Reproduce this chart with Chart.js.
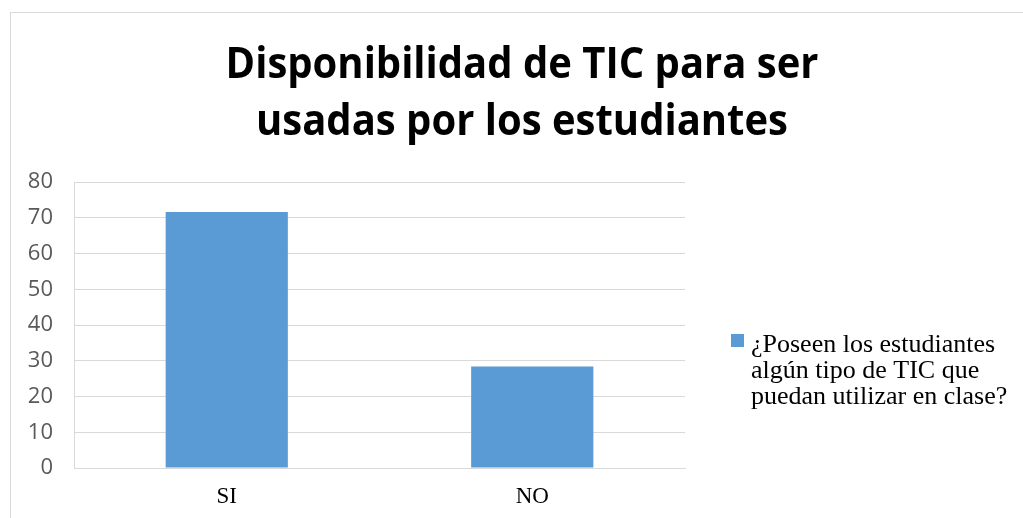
<!DOCTYPE html>
<html>
<head>
<meta charset="utf-8">
<style>
  html, body { margin: 0; padding: 0; background: #fff; }
  #wrap { width: 1023px; height: 518px; position: relative; }
</style>
</head>
<body>
<div id="wrap"><canvas id="myChart" width="1023" height="518"></canvas></div>
<script src="https://cdn.jsdelivr.net/npm/chart.js@4.4.0/dist/chart.umd.min.js"></script>
<script>
// chart data
const categories = ['SI', 'NO'];
const seriesValues = [71.6, 28.4];
const seriesLabel = '¿Poseen los estudiantes algún tipo de TIC que puedan utilizar en clase?';
const legendLines = ['¿Poseen los estudiantes', 'algún tipo de TIC que', 'puedan utilizar en clase?'];
const titleLines = ['Disponibilidad de TIC para ser', 'usadas por los estudiantes'];
const yTicks = [0, 10, 20, 30, 40, 50, 60, 70, 80];

const barColor = '#5b9bd5';
const gridColor = '#d9d9d9';

// outer frame + title (title is centred on the whole frame, not on the plot)
const framePlugin = {
  id: 'frame',
  beforeDraw(chart) {
    const c = chart.ctx;
    c.save();
    c.fillStyle = '#fff';
    c.fillRect(0, 0, chart.width, chart.height);
    c.strokeStyle = gridColor;
    c.lineWidth = 1;
    c.strokeRect(10.5, 12.5, 1100, 600);
    c.restore();
  },
  afterDraw(chart) {
    const c = chart.ctx;
    titleLines.forEach((line, i) => {
      c.save();
      c.fillStyle = '#000';
      c.font = 'bold 40px "Open Sans", sans-serif';
      c.textAlign = 'center';
      c.textBaseline = 'alphabetic';
      c.translate(522, 78 + i * 57);
      c.scale(1, 1.06);
      c.fillText(line, 0, 0);
      c.restore();
    });
  }
};

// legend on the right, wrapped on several lines
const sideLegend = {
  id: 'sideLegend',
  afterDraw(chart) {
    const c = chart.ctx;
    const x = chart.chartArea.right + 46;
    c.save();
    c.fillStyle = chart.data.datasets[0].backgroundColor;
    c.fillRect(x, 334, 13, 13);
    c.fillStyle = '#000';
    c.font = '26px "Liberation Serif", "Times New Roman", serif';
    c.textAlign = 'left';
    c.textBaseline = 'alphabetic';
    legendLines.forEach((line, i) => {
      c.fillText(line, x + 20, 352 + i * 26);
    });
    c.restore();
  }
};

const ctx = document.getElementById('myChart').getContext('2d');
const myChart = new Chart(ctx, {
  type: 'bar',
  data: {
    labels: categories,
    datasets: [{
      label: seriesLabel,
      data: seriesValues,
      backgroundColor: barColor,
      borderWidth: 0,
      categoryPercentage: 1,
      barPercentage: 0.4
    }]
  },
  options: {
    responsive: false,
    animation: false,
    layout: { padding: { left: 22, right: 338, top: 182, bottom: 0 } },
    plugins: {
      legend: { display: false },
      tooltip: { enabled: false },
      title: { display: false }
    },
    scales: {
      x: {
        grid: { display: false, drawTicks: false },
        border: { display: true, color: gridColor },
        ticks: {
          color: '#000',
          padding: 15,
          font: { family: '"Liberation Serif", "Times New Roman", serif', size: 23 }
        },
        afterFit(scale) { scale.height = 50; }
      },
      y: {
        min: 0,
        max: 80,
        afterBuildTicks(scale) { scale.ticks = yTicks.map(v => ({ value: v })); },
        grid: { color: gridColor, drawTicks: false },
        border: { display: true, color: gridColor },
        ticks: {
          color: '#595959',
          padding: 21,
          font: { family: '"Open Sans", sans-serif', size: 22 }
        },
        afterFit(scale) { scale.width = 52; }
      }
    }
  },
  plugins: [framePlugin, sideLegend]
});
</script>
</body>
</html>
